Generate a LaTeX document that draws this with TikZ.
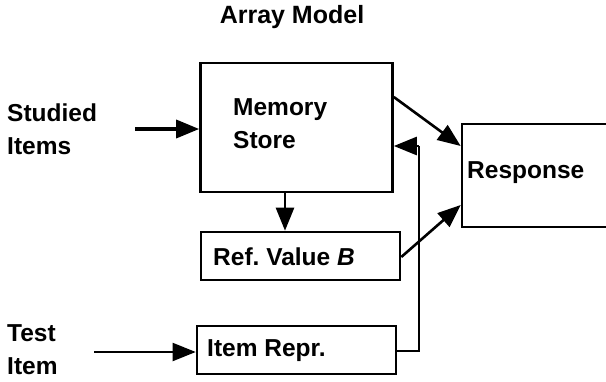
\documentclass[tikz,border=0pt]{standalone}
\usepackage{fontspec}
\setmainfont{Liberation Sans}
\usetikzlibrary{arrows.meta}
\frenchspacing
\begin{document}
\begin{tikzpicture}[x=1pt,y=-1pt,
  box/.style={draw,line width=2.6pt,inner sep=0pt},
  lbl/.style={font=\fontsize{24.5}{33}\selectfont\bfseries,inner sep=0pt,align=left,anchor=west},
  arr/.style={line width=2.6pt,-{Triangle[length=23pt,width=18pt]}},
  ln/.style={line width=2.6pt}]
\useasboundingbox (0,0) rectangle (606,381);
\begin{scope}
\clip (0,0) rectangle (606,381);
\node[font=\fontsize{25}{33}\selectfont\bfseries,inner sep=0pt] (title) at (292,17) {Array Model};
\node[lbl] (studied) at (7,129) {Studied\\Items};
\node[lbl] (test) at (7,350) {Test\\Item};
\node[box,minimum width=192pt,minimum height=129pt] (mem) at (296.5,127.5) {};
\node[lbl] (memtxt) at (233,124) {Memory\\Store};
\node[box,minimum width=199pt,minimum height=48pt] (ref) at (300.5,256) {};
\node[lbl] (reftxt) at (213,257) {Ref. Value \textit{B}};
\node[box,minimum width=199pt,minimum height=48pt] (item) at (296.5,350) {};
\node[lbl] (itemtxt) at (207,351) {Item Repr.};
\node[box,minimum width=160pt,minimum height=103pt] (resp) at (542,175.5) {};
\node[lbl] (resptxt) at (467,173) {Response};
\coordinate (s0) at (135,129);
\coordinate (t0) at (94,352);
\draw[arr,line width=3.4pt] (s0) -- (s0 -| mem.west);
\draw[arr,line width=2pt] (t0) -- (t0 -| item.west);
\draw[arr] (mem.south -| 285,0) -- (ref.north -| 285,0);
\draw[arr] (mem.east |- 0,97) -- (resp.west |- 0,146);
\draw[arr] (ref.east |- 0,257) -- (resp.west |- 0,205);
\coordinate (f1) at (419,351);
\coordinate (f2) at (419,146);
\draw[ln] (item.east |- f1) -- (f1) -- (f2);
\draw[arr] (f2) -- (mem.east |- f2);
\end{scope}
\end{tikzpicture}
\end{document}
